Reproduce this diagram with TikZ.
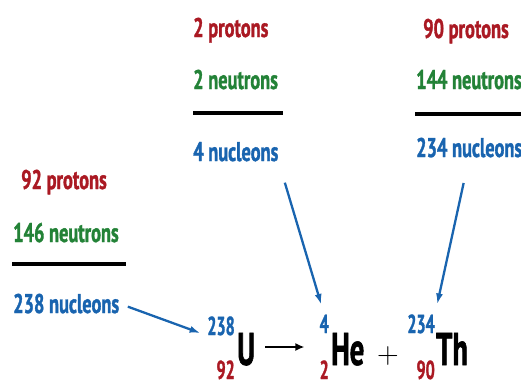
\documentclass[tikz,border=0pt]{standalone}
\usepackage{fontspec}
\newfontfamily\cond{PT Sans Bold}[FakeStretch=0.68, FakeBold=1.2]
\newfontfamily\condeq{PT Sans Bold}[FakeStretch=0.62, FakeBold=1.2]
\usetikzlibrary{arrows.meta}

\definecolor{protred}{RGB}{170,25,35}
\definecolor{neutgreen}{RGB}{35,130,55}
\definecolor{nuclblue}{RGB}{25,100,175}

\begin{document}
\begin{tikzpicture}[
    x=1pt, y=-1pt,
    lbl/.style={inner sep=0pt, anchor=base west, font=\cond\fontsize{27}{27}\selectfont},
    prot/.style={lbl, text=protred},
    neut/.style={lbl, text=neutgreen},
    nucl/.style={lbl, text=nuclblue},
    bar/.style={line width=3.5pt},
    mass/.style={inner sep=0pt, anchor=base east, text=nuclblue, font=\condeq\fontsize{26}{26}\selectfont},
    atom/.style={mass, text=protred},
    elem/.style={inner sep=0pt, anchor=base west, font=\condeq\fontsize{46}{46}\selectfont},
    link/.style={-{Latex[length=11pt,width=7pt]}, draw=nuclblue, line width=2.3pt}
]
    \useasboundingbox (0,0) rectangle (521,386);
    \clip (0,0) rectangle (521,386);

    % Uranium (left column)
    \node[prot] (protU) at (21,189) {92 protons};
    \node[neut] (neutU) at (13,242) {146 neutrons};
    \coordinate (barUa) at (12,264);
    \coordinate (barUb) at (126,264);
    \draw[bar] (barUa) -- (barUb);
    \node[nucl] (nuclU) at (13,313) {238 nucleons};

    % Helium (middle column)
    \node[prot] (protHe) at (193,37) {2 protons};
    \node[neut] (neutHe) at (193,89) {2 neutrons};
    \coordinate (barHea) at (193,113);
    \coordinate (barHeb) at (283,113);
    \draw[bar] (barHea) -- (barHeb);
    \node[nucl] (nuclHe) at (193,161) {4 nucleons};

    % Thorium (right column)
    \node[prot] (protTh) at (423,38) {90 protons};
    \node[neut] (neutTh) at (416,89) {144 neutrons};
    \coordinate (barTha) at (415,114);
    \coordinate (barThb) at (530,114);
    \draw[bar] (barTha) -- (barThb);
    \node[nucl] (nuclTh) at (416,157) {234 nucleons};

    % the decay equation
    \node[mass] (massU) at (235,335) {238};
    \node[atom] (atomU) at (235,379) {92};
    \node[elem] (symU) at (237,365) {U};

    \node[mass] (massHe) at (329,333) {4};
    \node[atom] (atomHe) at (329,379) {2};
    \node[elem] (symHe) at (331,365) {He};

    \node[font=\fontsize{30}{30}\selectfont, inner sep=0pt] (plus) at (388,356) {+};

    \node[mass] (massTh) at (435,333) {234};
    \node[atom] (atomTh) at (435,379) {90};
    \node[elem] (symTh) at (436,365) {Th};

    \coordinate (rxnA) at (symU.east |- 0,347);
    \coordinate (rxnB) at (massHe.west |- 0,347);
    \draw[-{Latex[length=9pt,width=8pt]}, line width=2.5pt, shorten <=10pt, shorten >=15pt] (rxnA) -- (rxnB);

    % arrows from the counts
    \draw[link, shorten <=9pt, shorten >=7pt] (nuclU.east) -- (massU.south west);
    \draw[link, shorten <=22pt, shorten >=10pt] (nuclHe.south east) -- (massHe.north);
    \draw[link, shorten <=26pt, shorten >=10pt] (nuclTh.south) -- (massTh.north east);
\end{tikzpicture}
\end{document}
